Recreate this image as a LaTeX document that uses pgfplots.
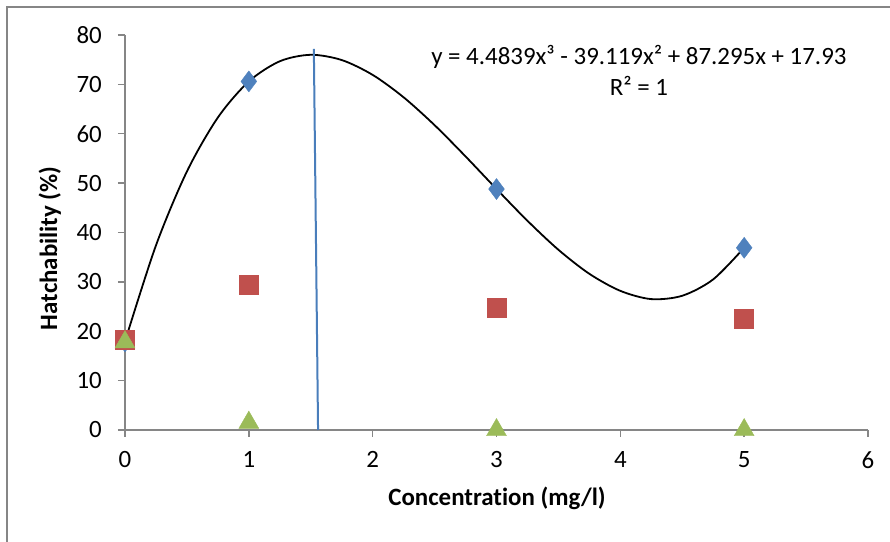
\documentclass[border=0pt]{standalone}
\usepackage{fontspec}
\setmainfont{Carlito}[Ligatures={NoCommon}]
\usepackage{pgfplots}
\pgfplotsset{compat=1.18}
\definecolor{axgray}{HTML}{868686}
\definecolor{xlblue}{HTML}{4F81BD}
\definecolor{xlred}{HTML}{C0504D}
\definecolor{xlgreen}{HTML}{9BBB59}
\definecolor{lineblue}{HTML}{4A7EBB}

\begin{document}
\begin{tikzpicture}[x=1bp,y=1bp]
\path[use as bounding box] (-125,-112) rectangle (765,430);
% chart area border (left and top visible)
\draw[axgray, line width=1.5bp] (-118,-112) -- (-118,423) -- (765,423);

\begin{axis}[
    at={(0,0)}, anchor=south west,
    scale only axis,
    width=743bp, height=395bp,
    xmin=0, xmax=6, ymin=0, ymax=80,
    xtick={0,1,...,6}, ytick={0,10,...,80},
    axis lines=left,
    axis line style={-, draw=axgray, line width=1.5bp},
    tick align=outside,
    major tick length=7bp,
    tick style={axgray, line width=1.5bp},
    /pgf/number format/assume math mode=true,
    tick label style={font=\fontsize{25}{29}\selectfont, inner sep=0pt},
    xticklabel style={yshift=-14bp},
    yticklabel style={xshift=-16bp},
    xlabel={\textbf{Concentration (mg/l)}},
    ylabel={\textbf{Hatchability (\%)}},
    label style={font=\fontsize{25}{29}\selectfont},
    xlabel style={at={(axis description cs:0.5007,-0.172)}, anchor=center},
    ylabel style={at={(axis description cs:-0.101,0.46)}, anchor=center, rotate=0},
    clip=false,
]
% series 1 (diamonds)
\addplot[only marks, mark=diamond*, mark size=10.5bp, mark options={fill=xlblue, draw=xlblue}]
  coordinates {(0,17.93) (1,70.6) (3,48.8) (5,36.9)};
% series 2 (squares)
\addplot[only marks, mark=square*, mark size=9.5bp, mark options={fill=xlred, draw=xlred}]
  coordinates {(0,18.2) (1,29.5) (3,24.8) (5,22.5)};
% series 3 (triangles)
\addplot[only marks, mark=triangle*, mark size=11.5bp, mark options={fill=xlgreen, draw=xlgreen}]
  coordinates {(0,17.8) (1,1.5) (3,0) (5,0)};
% cubic trendline of series 1
\addplot[black, line width=1.8bp, smooth] coordinates {
  (0,17.93) (0.25,37.38) (0.5,52.36) (0.75,63.29) (1,70.59) (1.25,74.68)
  (1.5,75.99) (1.75,74.93) (2,71.92) (2.25,67.38) (2.5,61.74) (2.75,55.41)
  (3,48.81) (3.25,42.37) (3.5,36.50) (3.75,31.63) (4,28.18) (4.25,26.51)
  (4.5,27.19) (4.75,30.51) (5,36.92)};
% vertical marker line
\addplot[lineblue, line width=2bp] coordinates {(1.525,77.2) (1.559,0)};

\node[font=\fontsize{25}{29}\selectfont, anchor=center] at (axis cs:4.15,75.6)
  {y = 4.4839x³ - 39.119x² + 87.295x + 17.93};
\node[font=\fontsize{25}{29}\selectfont, anchor=center] at (axis cs:4.15,69.6)
  {R² = 1};
\end{axis}
\end{tikzpicture}
\end{document}
